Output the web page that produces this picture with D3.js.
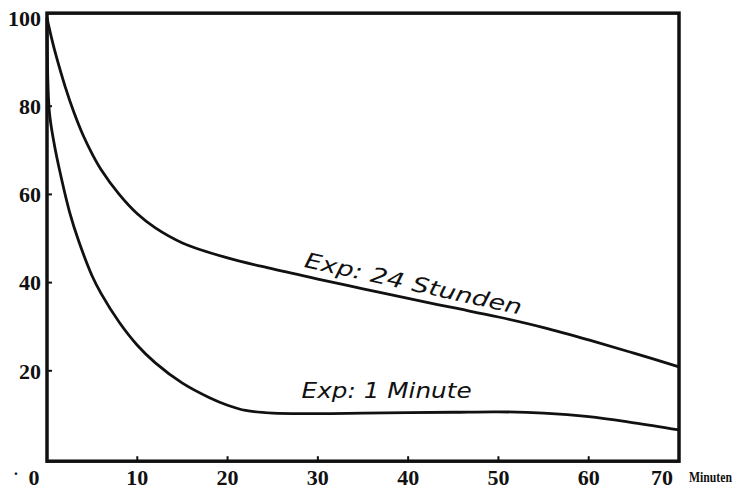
<!DOCTYPE html>
<html>
<head>
<meta charset="utf-8">
<script src="https://cdn.jsdelivr.net/npm/d3@7"></script>
<style>
  body { margin: 0; background: #fff; }
  svg { display: block; }
  .tick-label { font-family: "Liberation Serif", "DejaVu Serif", serif; font-weight: bold; font-size: 22px; fill: #111; }
  .curve-label { font-family: "DejaVu Sans", sans-serif; font-style: italic; font-size: 21px; fill: #111; }
  .unit-label { font-family: "Liberation Serif", "DejaVu Serif", serif; font-weight: bold; font-size: 15px; fill: #111; }
</style>
</head>
<body>
<svg id="chart" width="737" height="489"></svg>
<script>
// values (percent over minutes)
const stundenMinutes = [0, 0.5, 1, 2, 3, 4, 5, 6, 8, 10, 12, 15, 20, 25, 30, 35, 40, 45, 50, 55, 60, 65, 70];
const stundenValues  = [100, 95.5, 91.5, 84.5, 78.5, 73.4, 69.2, 65.6, 60, 55.6, 52.4, 49, 45.6, 43.1, 40.8, 38.6, 36.4, 34.3, 32.2, 29.8, 27, 24, 20.9];

const minuteMinutes = [0, 0.25, 0.75, 1.5, 2.5, 3.5, 5, 6, 8, 10, 12, 15, 18, 20, 22, 25, 30, 35, 40, 45, 50, 55, 60, 65, 70];
const minuteValues  = [100, 79, 72, 64.5, 56, 49.5, 41.5, 37.5, 31, 25.8, 21.8, 17.2, 13.9, 12.2, 11, 10.4, 10.3, 10.4, 10.5, 10.6, 10.7, 10.4, 9.6, 8.2, 6.6];

const xTicks = [0, 10, 20, 30, 40, 50, 60, 70];
const yTicks = [20, 40, 60, 80, 100];
const yLabels = ["20", "40", "60", "80", "100"];

const curveNames = ["Exp: 24 Stunden", "Exp: 1 Minute"];
const labelAnchors = [[28.4, 43.6], [28.2, 13.8]];
const unitText = "Minuten";

const svg = d3.select("#chart");

const x = d3.scaleLinear().domain([0, 70]).range([47, 679]);
const y = d3.scaleLinear().domain([0, 100]).range([459, 18]);

const frameLeft = x(0), frameRight = x(70), frameTop = y(101.1), frameBottom = y(-0.5);

const line = d3.line()
    .x(d => x(d[0]))
    .y(d => y(d[1]))
    .curve(d3.curveCatmullRom.alpha(0.5));

const series = [
    d3.zip(stundenMinutes, stundenValues),
    d3.zip(minuteMinutes, minuteValues)
];

svg.selectAll(".curve")
    .data(series)
    .enter()
    .append("path")
    .attr("class", "curve")
    .attr("d", line)
    .attr("fill", "none")
    .attr("stroke", "#111")
    .attr("stroke-width", 2.8)
    .attr("stroke-linejoin", "round");

// frame
svg.append("rect")
    .attr("x", frameLeft)
    .attr("y", frameTop)
    .attr("width", frameRight - frameLeft)
    .attr("height", frameBottom - frameTop)
    .attr("fill", "none")
    .attr("stroke", "#111")
    .attr("stroke-width", 3.5);

// small inward tick marks
svg.selectAll(".xtick")
    .data(xTicks.slice(1, -1))
    .enter()
    .append("line")
    .attr("class", "xtick")
    .attr("x1", d => x(d)).attr("x2", d => x(d))
    .attr("y1", frameBottom).attr("y2", frameBottom - 5)
    .attr("stroke", "#111").attr("stroke-width", 2);

svg.selectAll(".ytick")
    .data(yTicks.slice(0, -1))
    .enter()
    .append("line")
    .attr("class", "ytick")
    .attr("x1", frameLeft).attr("x2", frameLeft + 5)
    .attr("y1", d => y(d)).attr("y2", d => y(d))
    .attr("stroke", "#111").attr("stroke-width", 2);

// x labels
svg.selectAll(".xlabel")
    .data(xTicks)
    .enter()
    .append("text")
    .attr("class", "tick-label")
    .attr("x", d => x(d) + (d === 0 ? -13 : d === 70 ? -17 : 0))
    .attr("y", 485)
    .attr("text-anchor", "middle")
    .text(d => d);

svg.append("text")
    .attr("class", "tick-label")
    .attr("x", 16).attr("y", 479)
    .attr("text-anchor", "middle")
    .style("font-size", "16px")
    .text("·");

// y labels
svg.selectAll(".ylabel")
    .data(yTicks)
    .enter()
    .append("text")
    .attr("class", "tick-label")
    .attr("x", 41)
    .attr("y", d => y(d))
    .attr("dy", "0.35em")
    .attr("text-anchor", "end")
    .text((d, i) => yLabels[i]);

// unit, squeezed horizontally like the condensed print face
const unit = svg.append("text")
    .attr("class", "unit-label")
    .text(unitText);
const unitWidth = unit.node().getComputedTextLength();
unit.attr("transform", `translate(689,482) scale(${43 / unitWidth},1)`);

// curve names
const rotations = [12.5, 0];
const lengths = [222, 170];
svg.selectAll(".curve-label")
    .data(curveNames)
    .enter()
    .append("text")
    .attr("class", "curve-label")
    .attr("transform", (d, i) => `translate(${x(labelAnchors[i][0])},${y(labelAnchors[i][1])}) rotate(${rotations[i]})`)
    .attr("textLength", (d, i) => lengths[i])
    .attr("lengthAdjust", "spacingAndGlyphs")
    .text(d => d);
</script>
</body>
</html>
